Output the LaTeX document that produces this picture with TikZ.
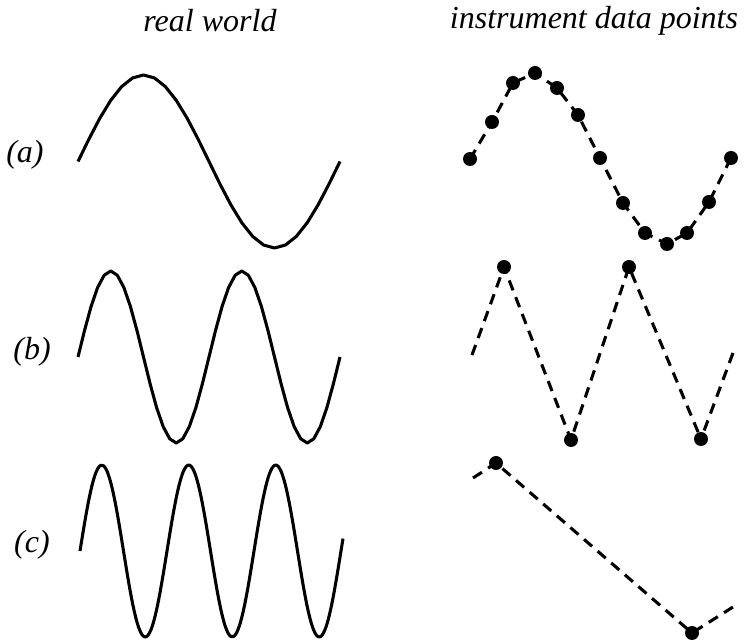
\documentclass[tikz,border=0pt]{standalone}
\usepackage{fontspec}
\setmainfont{Liberation Serif}

\tikzset{
  wave/.style={line width=2.3pt, line join=round},
  samplink/.style={line width=2.3pt, dash pattern=on 8pt off 5.5pt},
  dot/.style={circle, fill=black, inner sep=0pt, minimum size=10.5pt},
  lbl/.style={font=\fontsize{24}{28}\selectfont\itshape}
}

\begin{document}
\begin{tikzpicture}[x=0.75pt,y=0.75pt,yscale=-1,xscale=1]
%set diagram left start at 0, and has height of 641
\useasboundingbox (0,0) rectangle (744,641);

% Text Node
\node [lbl] (realw) at (210,21) {real world};
% Text Node
\node [lbl] (instr) at (594,21) {instrument data points};
% Text Node
\node [lbl] (la) at (25,155) {(a)};
% Text Node
\node [lbl] (lb) at (32,352) {(b)};
% Text Node
\node [lbl] (lc) at (32,545) {(c)};

%Curve: slow wave
\draw [wave] plot [domain=78:340, samples=25] (\x,{161.5-86.5*sin((\x-78)/262*360)});
%Curve: middle wave
\draw [wave] plot [domain=78:340, samples=41] (\x,{357-86*sin((\x-78)/131*360)});
%Curve: fast wave
\draw [wave] plot [domain=80:343, samples=90, smooth] (\x,{551-86*sin((\x-80)/87*360)});

%Shape: samples of (a)
\node [dot] (a0) at (470,159) {};
\node [dot] (a1) at (492,122) {};
\node [dot] (a2) at (513,83) {};
\node [dot] (a3) at (535,73) {};
\node [dot] (a4) at (557,88) {};
\node [dot] (a5) at (578,115) {};
\node [dot] (a6) at (600,158) {};
\node [dot] (a7) at (623,203) {};
\node [dot] (a8) at (645,233) {};
\node [dot] (a9) at (667,244) {};
\node [dot] (a10) at (687,233) {};
\node [dot] (a11) at (709,202) {};
\node [dot] (a12) at (731,158) {};
%Straight Lines
\draw [samplink] (a0.center) -- (a1.center) -- (a2.center) -- (a3.center) -- (a4.center) -- (a5.center) -- (a6.center) -- (a7.center) -- (a8.center) -- (a9.center) -- (a10.center) -- (a11.center) -- (a12.center);

%Shape: samples of (b)
\coordinate (b0) at (472,355);
\node [dot] (b1) at (504,267) {};
\node [dot] (b2) at (571,440) {};
\node [dot] (b3) at (629,267) {};
\node [dot] (b4) at (701,439) {};
\coordinate (b5) at (733,353);
%Straight Lines
\draw [samplink] (b0) -- (b1.center) -- (b2.center) -- (b3.center) -- (b4.center);
\draw [samplink] (b5) -- (b4.center);

%Shape: samples of (c)
\coordinate (c0) at (473,478);
\node [dot] (c1) at (496,463) {};
\node [dot] (c2) at (692,633) {};
\coordinate (c3) at (733,607);
%Straight Lines
\draw [samplink] (c0) -- (c1.center) -- (c2.center);
\draw [samplink] (c3) -- (c2.center);

\end{tikzpicture}
\end{document}
